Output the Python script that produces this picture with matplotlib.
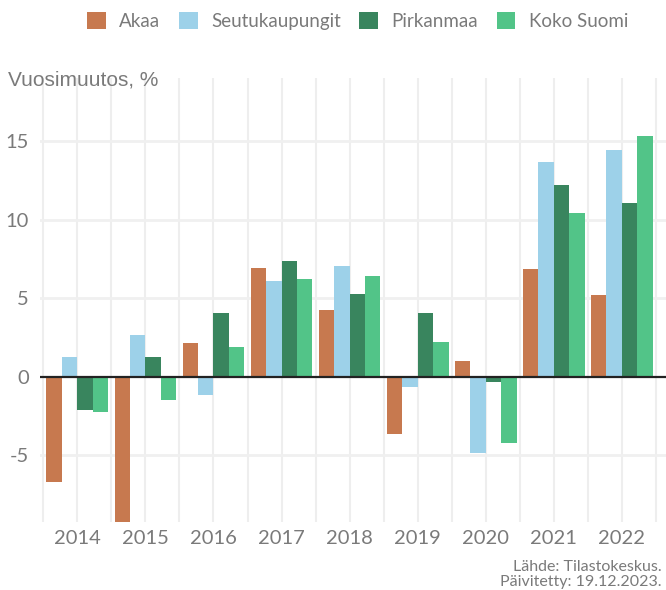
import numpy as np
import matplotlib.pyplot as plt
from matplotlib.patches import Patch

# Vuosimuutos (%) alueittain
vuodet = ['2014', '2015', '2016', '2017', '2018', '2019', '2020', '2021', '2022']
akaa = [-6.7, -9.6, 2.17, 6.94, 4.26, -3.65, 1.0, 6.88, 5.22]
seutukaupungit = [1.27, 2.66, -1.17, 6.11, 7.07, -0.64, -4.86, 13.69, 14.46]
pirkanmaa = [-2.12, 1.27, 4.06, 7.39, 5.29, 4.07, -0.32, 12.23, 11.08]
koko_suomi = [-2.25, -1.48, 1.89, 6.24, 6.43, 2.2, -4.22, 10.45, 15.35]

sarjat = ['Akaa', 'Seutukaupungit', 'Pirkanmaa', 'Koko Suomi']
varit = ['#C7794F', '#9DD1E9', '#39855E', '#52C488']
harmaa = '#7A7A7A'
fontti = ['Lato', 'DejaVu Sans']

fig = plt.figure(figsize=(6.66, 5.90), dpi=100)
ax = fig.add_axes([0.060, 0.115, 0.940, 0.753])

x = np.arange(len(vuodet))
w = 0.227
for i, (arvot, vari) in enumerate(zip([akaa, seutukaupungit, pirkanmaa, koko_suomi], varit)):
    ax.bar(x + (i - 1.5) * w, arvot, width=w, color=vari, zorder=2)

ax.set_xlim(-0.55, 8.65)
ax.set_ylim(-9.25, 19.05)

# gridit
for gx in np.arange(-0.5, 9.0, 0.5):
    ax.axvline(gx, color='#EEEEEE', lw=1.5, zorder=0)
for gy in [-5, 5, 10, 15]:
    ax.axhline(gy, color='#F0F0F0', lw=2, zorder=0)
ax.axhline(0, color='#222222', lw=1.6, zorder=3)

ax.set_yticks([-5, 0, 5, 10, 15])
ax.set_yticklabels(['-5', '0', '5', '10', '15'])
ax.set_xticks(x)
ax.set_xticklabels(vuodet)
ax.tick_params(length=0, colors=harmaa, labelsize=14.5)
ax.tick_params(axis='y', pad=8)
ax.tick_params(axis='x', pad=6)
for lab in ax.get_xticklabels() + ax.get_yticklabels():
    lab.set_family(fontti)
for s in ax.spines.values():
    s.set_visible(False)

fig.text(8 / 666, 1 - 80 / 590, 'Vuosimuutos, %', color=harmaa, fontsize=15,
         family=['Liberation Sans', 'DejaVu Sans'], va='center', ha='left')

kahvat = [Patch(facecolor=c, edgecolor='none') for c in varit]
fig.legend(kahvat, sarjat, loc='center', bbox_to_anchor=(0.537, 1 - 21 / 590), ncol=4,
           frameon=False, handlelength=1.0, handleheight=1.0, handletextpad=0.7,
           columnspacing=1.0, prop={'family': fontti, 'size': 13.5},
           labelcolor=harmaa)

fig.text(662 / 666, 1 - 567 / 590, 'Lähde: Tilastokeskus.', color=harmaa, fontsize=11.5,
         family=fontti, ha='right', va='center')
fig.text(662 / 666, 1 - 582 / 590, 'Päivitetty: 19.12.2023.', color=harmaa, fontsize=11.5,
         family=fontti, ha='right', va='center')

plt.savefig('out.png', dpi=100)
